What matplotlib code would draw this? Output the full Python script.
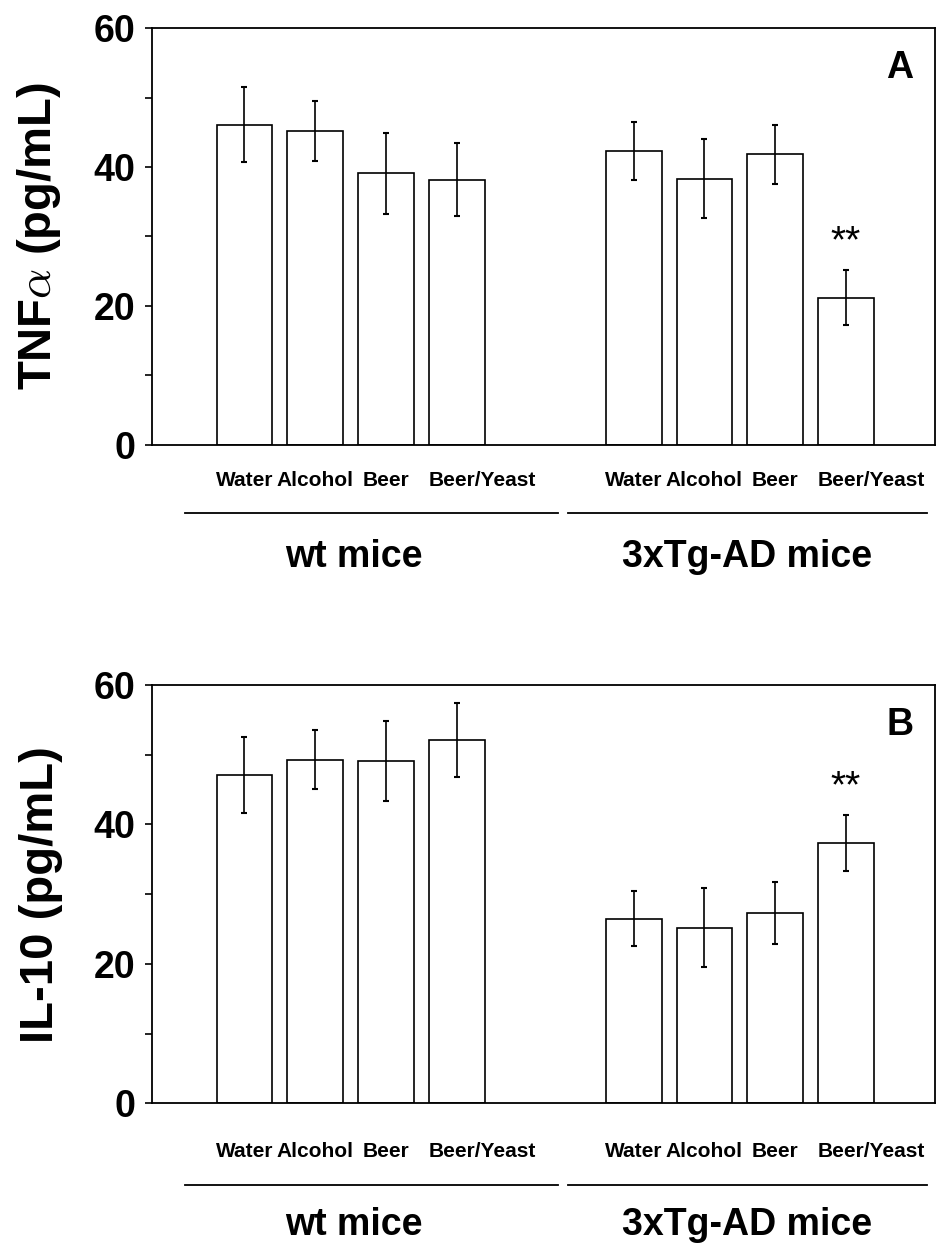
import numpy as np
import matplotlib
matplotlib.use('Agg')
import matplotlib.pyplot as plt
from matplotlib import transforms
from matplotlib.ticker import MultipleLocator

plt.rcParams['font.family'] = ['Liberation Sans', 'DejaVu Sans']
plt.rcParams['mathtext.fontset'] = 'cm'

# data (mean +/- error)
treatments = ['Water', 'Alcohol', 'Beer', 'Beer/Yeast']
groups = ['wt mice', '3xTg-AD mice']

tnf_wt = [46.1, 45.2, 39.1, 38.2]
tnf_wt_err = [5.4, 4.3, 5.8, 5.3]
tnf_tg = [42.3, 38.3, 41.8, 21.2]
tnf_tg_err = [4.2, 5.7, 4.3, 4.0]

il10_wt = [47.1, 49.3, 49.1, 52.1]
il10_wt_err = [5.4, 4.2, 5.8, 5.3]
il10_tg = [26.5, 25.2, 27.3, 37.3]
il10_tg_err = [4.0, 5.7, 4.4, 4.0]

x_wt = np.arange(4)
x_tg = np.arange(4) + 5.5
bw = 0.79

fig = plt.figure(figsize=(9.37, 12.45), dpi=100)
axA = fig.add_axes([0.1622, 0.6426, 0.8357, 0.3349])
axB = fig.add_axes([0.1622, 0.1138, 0.8357, 0.3360])


def panel(ax, wt, wt_err, tg, tg_err, ylabel, letter, star_idx, offs):
    for x, v, e in [(x_wt, wt, wt_err), (x_tg, tg, tg_err)]:
        ax.bar(x, v, width=bw, color='white', edgecolor='black', linewidth=1.2, zorder=2)
        ax.errorbar(x, v, yerr=e, fmt='none', ecolor='black', elinewidth=1.2,
                    capsize=2.5, capthick=1.5, zorder=3)
    ax.text(x_tg[star_idx], tg[star_idx] + tg_err[star_idx] + 4.0, '**',
            ha='center', va='center', fontsize=28)
    ax.text(0.955, 0.905, letter, transform=ax.transAxes, ha='center', va='center',
            fontsize=27, fontweight='bold')

    ax.set_xlim(-1.307, 9.758)
    ax.set_ylim(0, 60)
    ax.set_xticks([])
    ax.yaxis.set_major_locator(MultipleLocator(20))
    ax.yaxis.set_minor_locator(MultipleLocator(10))
    ax.tick_params(axis='y', which='both', direction='out', length=5, width=1.2,
                   labelsize=27, pad=7)
    for lab in ax.get_yticklabels():
        lab.set_fontweight('bold')
    for s in ax.spines.values():
        s.set_linewidth(1.3)
    ax.set_ylabel(ylabel, fontsize=34, fontweight='bold')
    ax.yaxis.set_label_coords(-0.113, 0.5)

    # group annotations under the axis
    tr = transforms.blended_transform_factory(ax.transData, ax.transAxes)
    y_lab, y_line, y_grp = offs
    for xs in (x_wt, x_tg):
        for i, name in enumerate(treatments):
            if i < 3:
                ax.text(xs[i], y_lab, name, transform=tr, ha='center', va='center',
                        fontsize=15, fontweight='bold')
            else:
                ax.text(xs[i] - bw / 2, y_lab, name, transform=tr, ha='left', va='center',
                        fontsize=15, fontweight='bold')
    ax.plot([-0.84, 4.43], [y_line, y_line], color='black', lw=1.3, transform=tr, clip_on=False)
    ax.plot([4.57, 9.64], [y_line, y_line], color='black', lw=1.3, transform=tr, clip_on=False)
    ax.text(1.55, y_grp, groups[0], transform=tr, ha='center', va='center',
            fontsize=27, fontweight='bold')
    ax.text(7.1, y_grp, groups[1], transform=tr, ha='center', va='center',
            fontsize=27, fontweight='bold')


panel(axA, tnf_wt, tnf_wt_err, tnf_tg, tnf_tg_err, r'TNF$\alpha$ (pg/mL)', 'A', 3,
      (-0.0863, -0.163, -0.269))
panel(axB, il10_wt, il10_wt_err, il10_tg, il10_tg_err, 'IL-10 (pg/mL)', 'B', 3,
      (-0.116, -0.196, -0.292))

fig.savefig('out.png', dpi=100)
